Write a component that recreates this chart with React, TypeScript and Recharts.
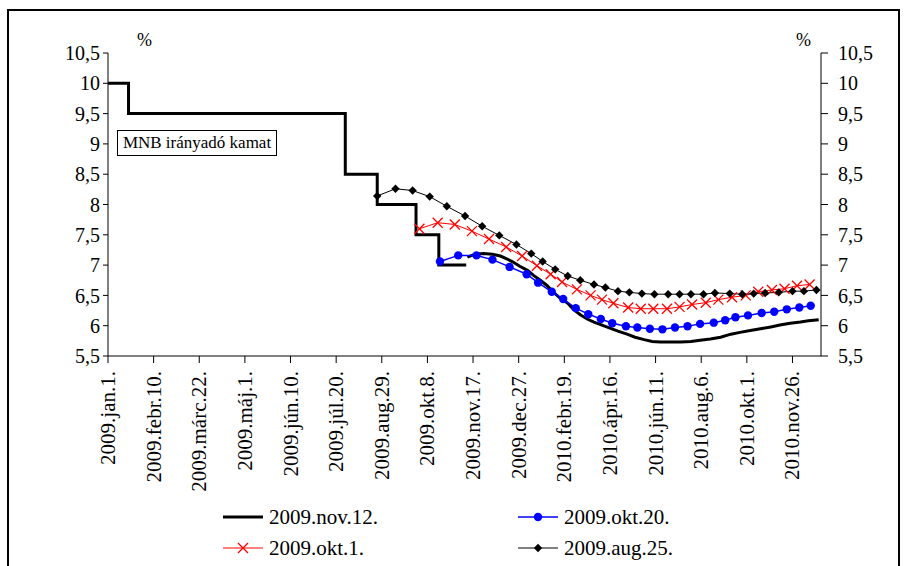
import { LineChart, Line, XAxis, YAxis } from 'recharts';

const FONT = '"Liberation Serif", Tinos, "Times New Roman", "DejaVu Serif", serif';

// x is a category position: one tick every 40 positions
const xTicks = [0, 40, 80, 120, 160, 200, 240, 280, 320, 360, 400, 440, 480, 520, 560, 600];
const xLabels = [
  '2009.jan.1.', '2009.febr.10.', '2009.márc.22.', '2009.máj.1.', '2009.jún.10.',
  '2009.júl.20.', '2009.aug.29.', '2009.okt.8.', '2009.nov.17.', '2009.dec.27.',
  '2010.febr.19.', '2010.ápr.16.', '2010.jún.11.', '2010.aug.6.', '2010.okt.1.', '2010.nov.26.',
];
const yTicks = [5.5, 6, 6.5, 7, 7.5, 8, 8.5, 9, 9.5, 10, 10.5];

// MNB irányadó kamat (step line)
const rateX = [0, 18, 208, 236, 270, 290, 314];
const rateY = [10, 9.5, 8.5, 8, 7.5, 7, 7];

// 2009.nov.12.
const nov12X = [315, 322, 329, 337, 344, 350, 355, 361, 368, 373, 379, 385, 390, 396, 403, 408, 414, 420, 426, 433, 440, 447, 455, 462, 470, 477, 484, 493, 502, 511, 519, 528, 537, 546, 554, 563, 572, 581, 589, 598, 607, 614, 623];
const nov12Y = [7.13, 7.18, 7.19, 7.18, 7.15, 7.1, 7.05, 6.98, 6.91, 6.83, 6.75, 6.66, 6.56, 6.46, 6.37, 6.27, 6.18, 6.11, 6.06, 6.01, 5.96, 5.91, 5.86, 5.81, 5.77, 5.74, 5.73, 5.73, 5.73, 5.74, 5.76, 5.78, 5.81, 5.86, 5.89, 5.92, 5.95, 5.98, 6.01, 6.04, 6.06, 6.08, 6.1];

// 2009.okt.20.
const okt20X = [291, 307, 323, 337, 352, 367, 377, 389, 399, 410, 421, 432, 442, 454, 464, 475, 486, 497, 508, 519, 531, 541, 550, 561, 573, 584, 595, 606, 616];
const okt20Y = [7.06, 7.16, 7.16, 7.09, 6.97, 6.85, 6.71, 6.56, 6.44, 6.29, 6.19, 6.11, 6.04, 5.99, 5.97, 5.95, 5.94, 5.97, 5.99, 6.03, 6.05, 6.09, 6.14, 6.17, 6.21, 6.23, 6.27, 6.3, 6.33];

// 2009.okt.1.
const okt1X = [273, 289, 304, 319, 334, 349, 363, 376, 388, 398, 411, 423, 433, 443, 456, 467, 478, 490, 501, 512, 524, 535, 547, 559, 570, 582, 593, 604, 615];
const okt1Y = [7.6, 7.7, 7.67, 7.56, 7.43, 7.3, 7.15, 6.99, 6.85, 6.72, 6.6, 6.5, 6.43, 6.37, 6.3, 6.28, 6.28, 6.28, 6.31, 6.35, 6.38, 6.43, 6.47, 6.5, 6.56, 6.59, 6.61, 6.66, 6.68];

// 2009.aug.25.
const aug25X = [236, 252, 267, 282, 297, 313, 328, 343, 358, 371, 381, 392, 403, 414, 426, 436, 447, 457, 468, 479, 491, 501, 511, 522, 532, 545, 556, 566, 576, 588, 600, 610, 621];
const aug25Y = [8.14, 8.26, 8.23, 8.13, 7.97, 7.81, 7.64, 7.49, 7.34, 7.19, 7.06, 6.93, 6.82, 6.75, 6.68, 6.63, 6.57, 6.55, 6.53, 6.52, 6.52, 6.52, 6.52, 6.52, 6.54, 6.53, 6.52, 6.53, 6.54, 6.55, 6.57, 6.57, 6.59];

const rows = (xs: number[], ys: number[]) => xs.map((x, i) => ({ x, v: ys[i] }));

const fmt = (v: number) => String(v).replace('.', ',');

const XTick = (props: any) => {
  const { x, y, payload } = props;
  const label = xLabels[xTicks.indexOf(payload.value)] ?? '';
  return (
    <text
      x={x}
      y={y}
      transform={`rotate(-90, ${x}, ${y})`}
      textAnchor="end"
      dominantBaseline="central"
      style={{ fontFamily: FONT }}
      fontSize={21}
      fill="#000"
    >
      {label}
    </text>
  );
};

const CrossDot = (p: any) => {
  const { cx, cy, index } = p;
  if (cx == null || cy == null) return <g key={index} />;
  const s = 5;
  return (
    <path
      key={index}
      d={`M${cx - s},${cy - s}L${cx + s},${cy + s}M${cx - s},${cy + s}L${cx + s},${cy - s}`}
      stroke="#ff0000"
      strokeWidth={1.3}
      fill="none"
    />
  );
};

const DiamondDot = (p: any) => {
  const { cx, cy, index } = p;
  if (cx == null || cy == null) return <g key={index} />;
  const s = 4.2;
  return (
    <path
      key={index}
      d={`M${cx},${cy - s}L${cx + s},${cy}L${cx},${cy + s}L${cx - s},${cy}Z`}
      fill="#000"
      stroke="none"
    />
  );
};

const LegendIcon = ({ kind }: { kind: 'thick' | 'blue' | 'red' | 'black' }) => (
  <svg width={40} height={14} style={{ display: 'block' }}>
    {kind === 'thick' && <line x1={0} y1={7} x2={40} y2={7} stroke="#000" strokeWidth={3} />}
    {kind === 'blue' && (
      <>
        <line x1={0} y1={7} x2={40} y2={7} stroke="#0000ff" strokeWidth={1.5} />
        <circle cx={20} cy={7} r={4.2} fill="#0000ff" />
      </>
    )}
    {kind === 'red' && (
      <>
        <line x1={0} y1={7} x2={40} y2={7} stroke="#ff0000" strokeWidth={1} />
        <path d="M15,2L25,12M15,12L25,2" stroke="#ff0000" strokeWidth={1.3} />
      </>
    )}
    {kind === 'black' && (
      <>
        <line x1={0} y1={7} x2={40} y2={7} stroke="#000" strokeWidth={1} />
        <path d="M20,2.8L24.2,7L20,11.2L15.8,7Z" fill="#000" />
      </>
    )}
  </svg>
);

const legendItems = [
  { name: '2009.nov.12.', kind: 'thick' as const, left: 223, top: 517 },
  { name: '2009.okt.20.', kind: 'blue' as const, left: 518, top: 517 },
  { name: '2009.okt.1.', kind: 'red' as const, left: 223, top: 548 },
  { name: '2009.aug.25.', kind: 'black' as const, left: 518, top: 548 },
];

const axisText = { fill: '#000', fontSize: 20, style: { fontFamily: FONT } };

export default function App() {
  return (
    <div
      style={{
        position: 'absolute',
        left: 0,
        top: 0,
        width: 906,
        height: 566,
        overflow: 'hidden',
        background: '#fff',
        fontFamily: FONT,
      }}
    >
      <div
        style={{
          position: 'absolute',
          left: 7,
          top: 9,
          width: 889,
          height: 620,
          border: '2px solid #000',
        }}
      />
      <div style={{ position: 'absolute', left: 0, top: 0 }}>
        <LineChart width={906} height={566} margin={{ top: 53, right: 25, bottom: 0, left: 48 }}>
          <XAxis
            type="number"
            dataKey="x"
            domain={[0, 625]}
            ticks={xTicks}
            interval={0}
            allowDataOverflow
            height={210}
            tickSize={7}
            tickMargin={8}
            tick={<XTick />}
            axisLine={{ stroke: '#000' }}
            tickLine={{ stroke: '#000' }}
          />
          <YAxis
            yAxisId="left"
            domain={[5.5, 10.5]}
            ticks={yTicks}
            interval={0}
            allowDataOverflow
            width={60}
            tickSize={5}
            tickMargin={3}
            tickFormatter={fmt}
            tick={axisText}
            axisLine={{ stroke: '#000' }}
            tickLine={{ stroke: '#000' }}
          />
          <YAxis
            yAxisId="right"
            orientation="right"
            domain={[5.5, 10.5]}
            ticks={yTicks}
            interval={0}
            allowDataOverflow
            width={60}
            tickSize={7}
            tickMargin={10}
            tickFormatter={fmt}
            tick={axisText}
            axisLine={{ stroke: '#000' }}
            tickLine={{ stroke: '#000' }}
          />
          <Line
            yAxisId="left"
            data={rows(rateX, rateY)}
            dataKey="v"
            type="stepAfter"
            stroke="#000"
            strokeWidth={3}
            dot={false}
            isAnimationActive={false}
            legendType="none"
          />
          <Line
            yAxisId="left"
            data={rows(nov12X, nov12Y)}
            dataKey="v"
            name="2009.nov.12."
            type="linear"
            stroke="#000"
            strokeWidth={3}
            dot={false}
            isAnimationActive={false}
          />
          <Line
            yAxisId="left"
            data={rows(okt20X, okt20Y)}
            dataKey="v"
            name="2009.okt.20."
            type="linear"
            stroke="#0000ff"
            strokeWidth={1.5}
            dot={{ r: 4.2, fill: '#0000ff', stroke: 'none' }}
            isAnimationActive={false}
          />
          <Line
            yAxisId="left"
            data={rows(okt1X, okt1Y)}
            dataKey="v"
            name="2009.okt.1."
            type="linear"
            stroke="#ff0000"
            strokeWidth={1}
            dot={CrossDot}
            isAnimationActive={false}
          />
          <Line
            yAxisId="left"
            data={rows(aug25X, aug25Y)}
            dataKey="v"
            name="2009.aug.25."
            type="linear"
            stroke="#000"
            strokeWidth={1}
            dot={DiamondDot}
            isAnimationActive={false}
          />
        </LineChart>
      </div>
      <div style={{ position: 'absolute', left: 137, top: 30, fontSize: 18 }}>%</div>
      <div style={{ position: 'absolute', left: 796, top: 30, fontSize: 18 }}>%</div>
      <div
        style={{
          position: 'absolute',
          left: 117,
          top: 130,
          width: 158,
          height: 24,
          border: '1px solid #000',
          background: '#fff',
          fontSize: 17,
          lineHeight: '24px',
          textAlign: 'center',
        }}
      >
        MNB irányadó kamat
      </div>
      {legendItems.map((it) => (
        <div
          key={it.name}
          style={{
            position: 'absolute',
            left: it.left,
            top: it.top - 12,
            height: 24,
            display: 'flex',
            alignItems: 'center',
            gap: 6,
            fontSize: 21,
            whiteSpace: 'nowrap',
          }}
        >
          <LegendIcon kind={it.kind} />
          <span>{it.name}</span>
        </div>
      ))}
    </div>
  );
}
